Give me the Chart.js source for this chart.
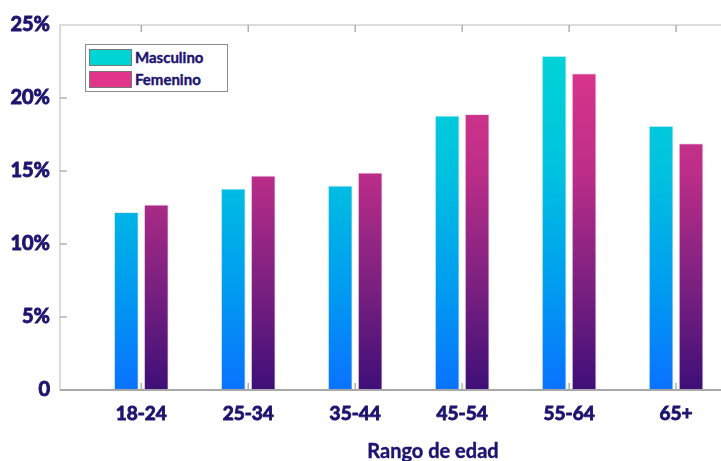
<!DOCTYPE html>
<html>
<head>
<meta charset="utf-8">
<script src="https://cdn.jsdelivr.net/npm/chart.js@4.4.1/dist/chart.umd.min.js"></script>
<style>
  body { margin: 0; background: #fff; }
  #wrap { position: relative; width: 721px; height: 461px; }
  #legend {
    position: absolute; left: 85px; top: 44px; width: 141px; height: 46px;
    border: 1px solid #8a8a8a; background: #fff;
    font: bold 15px Lato, sans-serif; color: #1d1470;
    -webkit-text-stroke: 0.4px #1d1470;
  }
  #legend .item { position: absolute; left: 3px; height: 17px; line-height: 17px; white-space: nowrap; }
  #legend .sw { display: inline-block; width: 41px; height: 15px; border: 1px solid #777; vertical-align: top; margin-right: 3px; }
</style>
</head>
<body>
<div id="wrap">
  <canvas id="chart"></canvas>
  <div id="legend"></div>
</div>
<script>
const ageGroups = ['18-24', '25-34', '35-44', '45-54', '55-64', '65+'];
const maleValues = [12.2, 13.8, 14.0, 18.8, 22.9, 18.1];
const femaleValues = [12.7, 14.7, 14.9, 18.9, 21.7, 16.9];
const seriesNames = ['Masculino', 'Femenino'];
const yTicks = [0, 5, 10, 15, 20, 25];
const xTitle = 'Rango de edad';

const navy = '#1d1470';

// gradient stops per series (top of plot -> bottom)
const maleStops = [[0, '#00d8d4'], [0.4, '#00c2e0'], [0.72, '#009cf0'], [1, '#0a72ff']];
const femaleStops = [[0, '#e6388c'], [0.4, '#bc2e88'], [0.72, '#7a2080'], [1, '#3e0f78']];

function gradientFill(stops) {
  return (ctx) => {
    const area = ctx.chart.chartArea;
    if (!area) return stops[0][1];
    const g = ctx.chart.ctx.createLinearGradient(0, area.top, 0, area.bottom);
    stops.forEach(([p, c]) => g.addColorStop(p, c));
    return g;
  };
}

// frame + inward tick marks, drawn from the scales
const framePlugin = {
  id: 'frame',
  beforeDatasetsDraw(chart) {
    const { ctx, chartArea: a, scales } = chart;
    ctx.save();
    ctx.lineWidth = 2;
    ctx.strokeStyle = '#dcdcdc';
    ctx.beginPath();
    ctx.moveTo(a.left, a.bottom);
    ctx.lineTo(a.left, a.top);
    ctx.lineTo(a.right, a.top);
    ctx.stroke();

    ctx.lineWidth = 1.5;
    ctx.strokeStyle = '#b0b0b0';
    yTicks.slice(1, -1).forEach(v => {
      const y = scales.y.getPixelForValue(v);
      ctx.beginPath();
      ctx.moveTo(a.left, y);
      ctx.lineTo(a.left + 7, y);
      ctx.stroke();
    });
    ageGroups.forEach((_, i) => {
      const x = scales.x.getPixelForValue(i + 1);
      ctx.beginPath();
      ctx.moveTo(x, a.bottom);
      ctx.lineTo(x, a.bottom - 7);
      ctx.moveTo(x, a.top);
      ctx.lineTo(x, a.top + 7);
      ctx.stroke();
    });
    ctx.restore();
  },
  afterDatasetsDraw(chart) {
    const { ctx, chartArea: a } = chart;
    ctx.save();
    ctx.lineWidth = 2;
    ctx.strokeStyle = '#a8a8a8';
    ctx.beginPath();
    ctx.moveTo(a.left, a.bottom);
    ctx.lineTo(a.right, a.bottom);
    ctx.stroke();

    // axis title
    ctx.fillStyle = navy;
    ctx.strokeStyle = navy;
    ctx.lineWidth = 0.4;
    ctx.font = 'bold 20px Lato, sans-serif';
    ctx.textAlign = 'center';
    ctx.textBaseline = 'middle';
    ctx.fillText(xTitle, 433, 452);
    ctx.strokeText(xTitle, 433, 452);
    ctx.restore();
  }
};

const chart = new Chart(document.getElementById('chart'), {
  type: 'bar',
  data: {
    datasets: [
      {
        label: seriesNames[0],
        data: maleValues.map((v, i) => ({ x: i + 1, y: v })),
        backgroundColor: gradientFill(maleStops),
        borderColor: 'rgba(225,236,245,0.95)',
        borderWidth: 1,
        legendColor: '#00d4d4'
      },
      {
        label: seriesNames[1],
        data: femaleValues.map((v, i) => ({ x: i + 1, y: v })),
        backgroundColor: gradientFill(femaleStops),
        borderColor: 'rgba(240,225,238,0.95)',
        borderWidth: 1,
        legendColor: '#e0358a'
      }
    ]
  },
  options: {
    responsive: true,
    maintainAspectRatio: false,
    animation: false,
    layout: { padding: { top: 25, right: 0, left: 0, bottom: 0 } },
    datasets: { bar: { categoryPercentage: 0.56, barPercentage: 0.83 } },
    plugins: { legend: { display: false }, tooltip: { enabled: false } },
    scales: {
      x: {
        type: 'linear',
        min: 0.24,
        max: 6.42,
        offset: false,
        grid: { display: false, drawTicks: false, offset: false },
        border: { display: false },
        afterBuildTicks: (scale) => { scale.ticks = ageGroups.map((_, i) => ({ value: i + 1 })); },
        afterFit: (scale) => { scale.height = 71; },
        ticks: {
          autoSkip: false,
          maxRotation: 0,
          includeBounds: false,
          padding: 12,
          color: navy,
          textStrokeColor: navy,
          textStrokeWidth: 0.9,
          font: { family: 'Lato', size: 19, weight: 'bold' },
          callback: (v) => ageGroups[v - 1] || ''
        }
      },
      y: {
        min: 0,
        max: 25,
        grid: { display: false, drawTicks: false },
        border: { display: false },
        afterBuildTicks: (scale) => { scale.ticks = yTicks.map(v => ({ value: v })); },
        afterFit: (scale) => { scale.width = 60; },
        ticks: {
          padding: 10,
          color: navy,
          textStrokeColor: navy,
          textStrokeWidth: 0.9,
          font: { family: 'Lato', size: 20, weight: 'bold' },
          callback: (v) => v === 0 ? '0' : v + '%'
        }
      }
    }
  },
  plugins: [framePlugin]
});

// legend box inside the plot
const legend = document.getElementById('legend');
chart.data.datasets.forEach((ds, i) => {
  const item = document.createElement('div');
  item.className = 'item';
  item.style.top = (4 + i * 22) + 'px';
  const sw = document.createElement('span');
  sw.className = 'sw';
  sw.style.background = ds.legendColor;
  item.appendChild(sw);
  item.appendChild(document.createTextNode(ds.label));
  legend.appendChild(item);
});
</script>
</body>
</html>
